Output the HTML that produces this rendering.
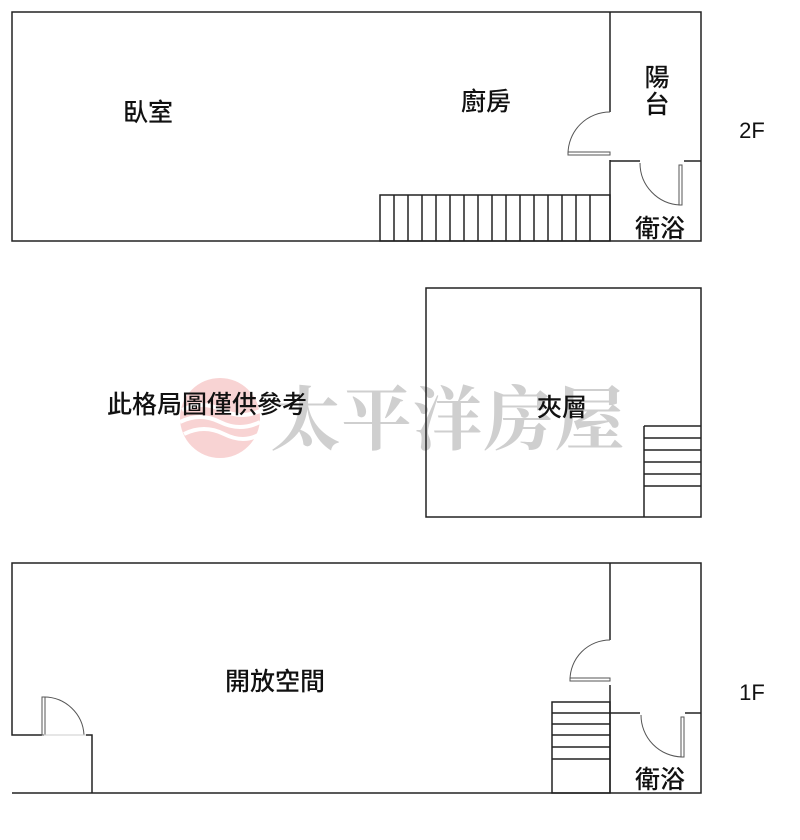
<!DOCTYPE html>
<html><head><meta charset="utf-8"><style>
html,body{margin:0;padding:0;background:#fff;width:800px;height:840px;overflow:hidden}
</style></head><body>
<svg width="800" height="840" viewBox="0 0 800 840" xmlns="http://www.w3.org/2000/svg">
<!-- watermark -->
<circle cx="220" cy="418" r="40" fill="#f6c8c8" opacity="0.8"/>
<path d="M182 410 q20 -10 40 0 t40 0 M180 422 q20 -10 40 0 t40 0 M184 434 q20 -10 40 0 t36 0" stroke="#fff" stroke-width="4" fill="none"/>
<text x="448" y="444" text-anchor="middle" font-family="Noto Serif CJK SC, serif" font-weight="bold" font-size="70" fill="#cfcfcf" letter-spacing="1">太平洋房屋</text>

<g stroke="#222" stroke-width="1.5" fill="none">
<!-- 2F -->
<polyline points="610,112 610,12 12,12 12,241 701,241 701,12 610,12"/>
<line x1="610" y1="160" x2="610" y2="241"/>
<line x1="610" y1="161" x2="640" y2="161"/>
<line x1="684" y1="161" x2="701" y2="161"/>
<rect x="380" y="195" width="230" height="46"/>
<path d="M394 195V241M408 195V241M422 195V241M436 195V241M450 195V241M464 195V241M478 195V241M492 195V241M506 195V241M520 195V241M534 195V241M548 195V241M562 195V241M576 195V241M590 195V241"/>
<!-- mid -->
<rect x="426" y="288" width="275" height="229"/>
<line x1="644" y1="426" x2="644" y2="517"/>
<path d="M644 426H701M644 438H701M644 450H701M644 462H701M644 474H701M644 486H701"/>
<!-- 1F -->
<polyline points="42,735 12,735 12,563 701,563 701,793 12,793"/>
<polyline points="86,735 92,735 92,793"/>
<line x1="610" y1="563" x2="610" y2="640"/>
<line x1="610" y1="685" x2="610" y2="793"/>
<line x1="610" y1="713" x2="640" y2="713"/>
<line x1="685" y1="713" x2="701" y2="713"/>
<rect x="552" y="702" width="58" height="91"/>
<path d="M552 713H610M552 724H610M552 735H610M552 747H610M552 759H610"/>
</g>
<g stroke="#555" stroke-width="1" fill="none">
<path d="M610 112 A42 42 0 0 0 568 154"/>
<rect x="568" y="152" width="42" height="3"/>
<path d="M640 163 A42 42 0 0 0 680 205"/>
<rect x="679" y="165" width="3" height="40"/>
<path d="M610 640 A40 40 0 0 0 570 680"/>
<rect x="570" y="678" width="40" height="3"/>
<path d="M641 715 A42 42 0 0 0 682 757"/>
<rect x="681" y="717" width="3" height="40"/>
<path d="M44 697 A40 40 0 0 1 84 735"/>
<rect x="42" y="697" width="3" height="38"/>
<line x1="44" y1="735" x2="86" y2="735" stroke="#ccc"/>
</g>
<g font-family="Liberation Sans, Noto Sans CJK TC, sans-serif" font-size="25" font-weight="500" fill="#111" text-anchor="middle">
<text x="148" y="121">臥室</text>
<text x="486" y="110">廚房</text>
<text x="657" y="86">陽</text>
<text x="657" y="113">台</text>
<text x="660" y="237">衛浴</text>
<text x="752" y="138" font-weight="normal" font-size="22">2F</text>
<text x="562" y="416">夾層</text>
<text x="207" y="413">此格局圖僅供參考</text>
<text x="275" y="690">開放空間</text>
<text x="752" y="700" font-weight="normal" font-size="22">1F</text>
<text x="660" y="788">衛浴</text>
</g>
</svg>
</body></html>
